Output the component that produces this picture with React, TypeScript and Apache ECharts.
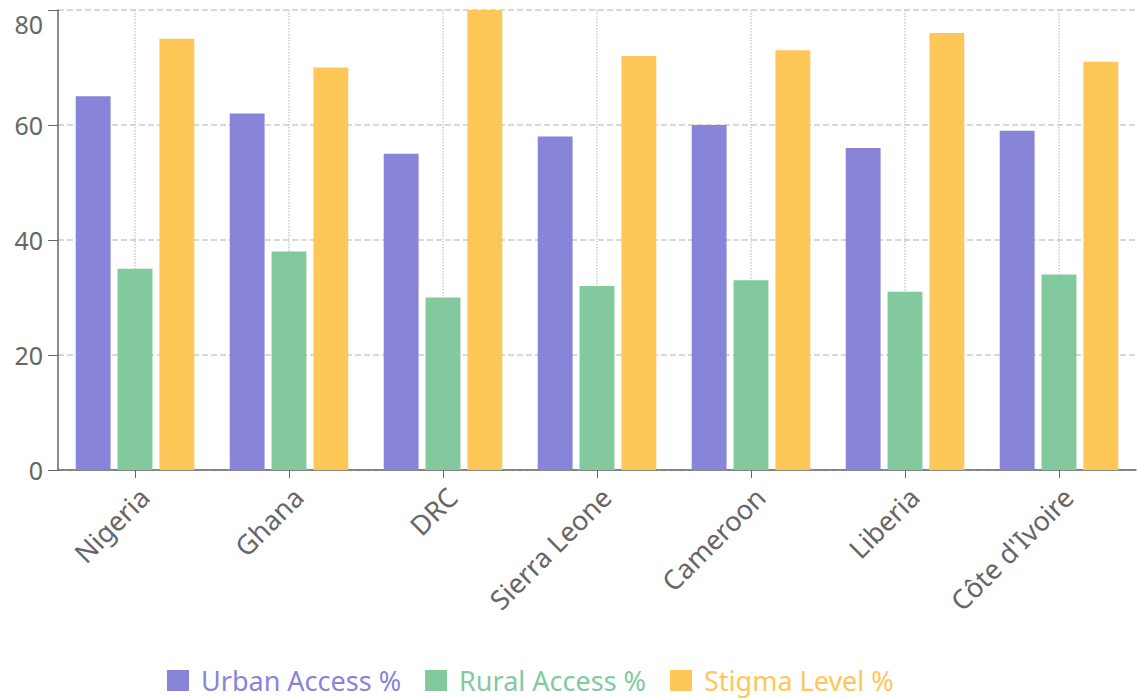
import React, { useEffect, useRef } from "react";
import * as echarts from "echarts";

const categories = ["Nigeria", "Ghana", "DRC", "Sierra Leone", "Cameroon", "Liberia", "Côte d'Ivoire"];
const urbanAccess = [65, 62, 55, 58, 60, 56, 59];
const ruralAccess = [35, 38, 30, 32, 33, 31, 34];
const stigmaLevel = [75, 70, 80, 72, 73, 76, 71];
const yTicks = { min: 0, max: 80, interval: 20 };

const COLORS = ["#8884d8", "#82ca9d", "#ffc658"];
const NAMES = ["Urban Access %", "Rural Access %", "Stigma Level %"];
const FONT = "'Noto Sans', 'Open Sans', sans-serif";

export default function App() {
  const ref = useRef<HTMLDivElement>(null);
  useEffect(() => {
    if (!ref.current) return;
    const chart = echarts.init(ref.current, undefined, { renderer: "svg" });
    const values = [urbanAccess, ruralAccess, stigmaLevel];
    chart.setOption({
      animation: false,
      textStyle: { fontFamily: FONT },
      grid: { left: 58, right: 2, top: 10, bottom: 228, containLabel: false },
      legend: {
        left: 162,
        top: 662,
        icon: "rect",
        itemWidth: 22,
        itemHeight: 21,
        itemGap: 24,
        data: NAMES.map((n, i) => ({
          name: n,
          textStyle: { color: COLORS[i], fontSize: 27, lineHeight: 27, fontFamily: FONT, padding: [0, 0, 0, 7] },
        })),
        textStyle: { fontSize: 27, lineHeight: 27, fontFamily: FONT },
      },
      xAxis: {
        type: "category",
        data: categories,
        axisLine: { show: true, lineStyle: { color: "#666", width: 1.5 } },
        axisTick: { show: true, alignWithLabel: true, length: 8, lineStyle: { color: "#666" } },
        axisLabel: {
          rotate: 45,
          color: "#666",
          fontSize: 27,
          margin: 13,
          fontFamily: FONT,
          interval: 0,
          formatter: (v: string) => `{c|${v}}`,
          rich: { c: { fontSize: 27, color: "#666", fontFamily: FONT, padding: [26, 0, 0, 0] } },
        },
        splitLine: { show: true, alignWithLabel: true, lineStyle: { color: "#ccc", type: "dotted", width: 1.5 } },
      },
      yAxis: {
        type: "value",
        min: yTicks.min,
        max: yTicks.max,
        interval: yTicks.interval,
        axisLine: { show: true, lineStyle: { color: "#666", width: 1.5 } },
        axisTick: { show: true, length: 10, lineStyle: { color: "#666" } },
        axisLabel: {
          color: "#666",
          fontSize: 25,
          margin: 15,
          fontFamily: FONT,
          formatter: (v: number) => (v === yTicks.max ? `{top|${v}}` : `${v}`),
          rich: { top: { fontSize: 25, color: "#666", fontFamily: FONT, padding: [28, 0, 0, 0] } },
        },
        splitLine: { show: true, lineStyle: { color: "#ccc", type: "dashed", width: 1.5 } },
      },
      series: NAMES.map((n, i) => ({
        name: n,
        type: "bar",
        data: values[i],
        barGap: "20%",
        barCategoryGap: "23%",
        itemStyle: { color: COLORS[i] },
      })),
    });
    return () => chart.dispose();
  }, []);
  return <div ref={ref} style={{ position: "fixed", left: 0, top: 0, width: 1138, height: 698, background: "#fff" }} />;
}
